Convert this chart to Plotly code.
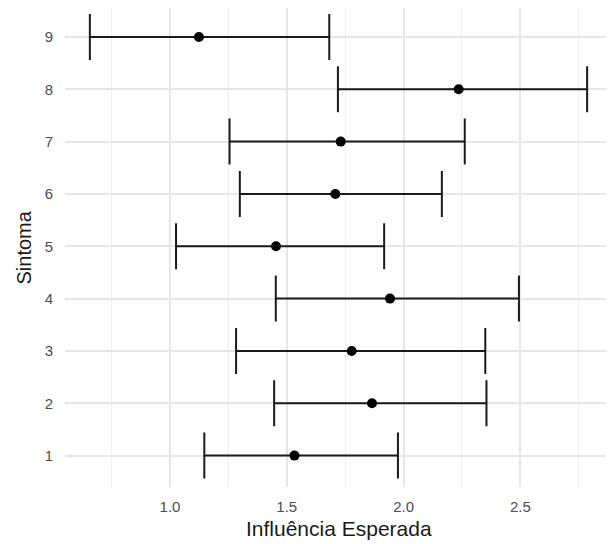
import plotly.graph_objects as go

sintoma = [1, 2, 3, 4, 5, 6, 7, 8, 9]
media = [1.533, 1.865, 1.778, 1.942, 1.454, 1.708, 1.731, 2.236, 1.124]
inferior = [1.147, 1.446, 1.283, 1.453, 1.026, 1.299, 1.255, 1.719, 0.657]
superior = [1.976, 2.355, 2.350, 2.494, 1.917, 2.164, 2.262, 2.786, 1.682]
x_ticks = [1.0, 1.5, 2.0, 2.5]
x_tick_labels = ["1.0", "1.5", "2.0", "2.5"]

err_plus = [s - m for s, m in zip(superior, media)]
err_minus = [m - i for m, i in zip(media, inferior)]

lo = min(inferior)
hi = max(superior)
pad = (hi - lo) * 0.05

fig = go.Figure()
fig.add_trace(go.Scatter(
    x=media, y=sintoma, mode="markers",
    marker=dict(color="black", size=10),
    error_x=dict(type="data", symmetric=False, array=err_plus, arrayminus=err_minus,
                 color="#1a1a1a", thickness=2, width=23),
    showlegend=False,
))

font_family = "Liberation Sans, Arial, sans-serif"
fig.update_layout(
    width=606, height=536,
    margin=dict(l=57, r=2, t=0, b=57),
    paper_bgcolor="white", plot_bgcolor="white",
    font=dict(family=font_family),
    xaxis=dict(
        range=[lo - pad, hi + pad],
        tickvals=x_ticks, ticktext=x_tick_labels,
        showgrid=True, gridcolor="#e6e6e6", gridwidth=1.5,
        minor=dict(dtick=0.25, tick0=0, showgrid=True, gridcolor="#eeeeee", gridwidth=1),
        zeroline=False, showline=False,
        ticks="", ticklabelstandoff=9,
        tickfont=dict(size=15, color="#4d4d4d"),
    ),
    yaxis=dict(
        range=[0.4, 9.553],
        tickvals=sintoma, ticktext=[str(s) for s in sintoma],
        showgrid=True, gridcolor="#e6e6e6", gridwidth=1.5,
        zeroline=False, showline=False,
        ticks="", ticklabelstandoff=11,
        tickfont=dict(size=15, color="#4d4d4d"),
    ),
    annotations=[
        dict(text="Influência Esperada", xref="paper", yref="paper", x=0.5, y=0,
             yshift=-41, xanchor="center", yanchor="middle", showarrow=False,
             font=dict(size=21, color="#1a1a1a")),
        dict(text="Sintoma", xref="paper", yref="paper", x=0, y=0.5,
             xshift=-42, xanchor="center", yanchor="middle", showarrow=False,
             textangle=-90, font=dict(size=20, color="#1a1a1a")),
    ],
)

fig.write_html("out.html")
